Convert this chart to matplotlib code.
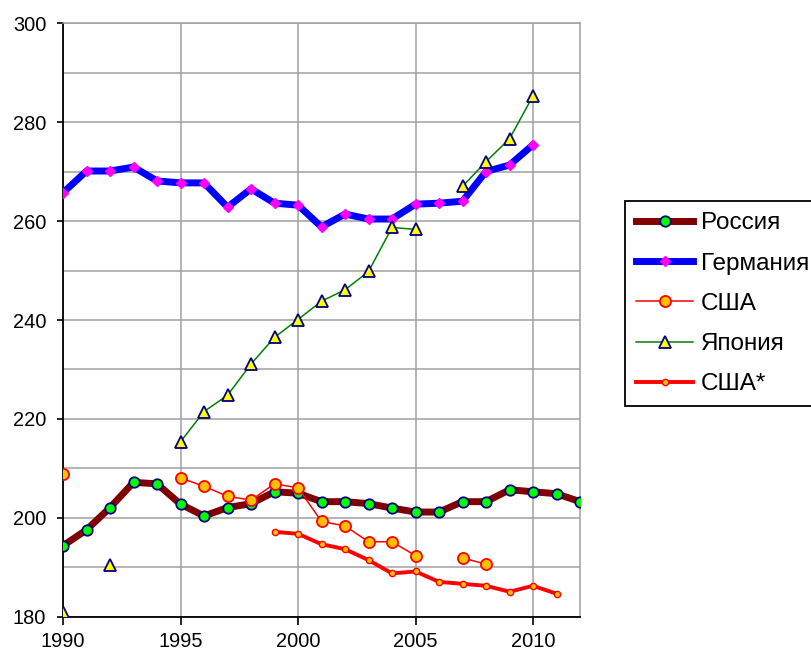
import numpy as np
import matplotlib
matplotlib.use("Agg")
from matplotlib import pyplot as plt

plt.rcParams['font.family'] = ['Liberation Sans', 'DejaVu Sans']

nan = np.nan
years = np.arange(1990, 2013)

russia = [194.4, 197.6, 202.1, 207.2, 206.9, 202.8, 200.4, 202.1, 202.9, 205.3,
          205.0, 203.3, 203.3, 202.9, 202.0, 201.2, 201.2, 203.3, 203.3, 205.7,
          205.3, 204.9, 203.3]
germany = [265.7, 270.1, 270.1, 270.9, 268.1, 267.7, 267.7, 262.8, 266.5, 263.6,
           263.2, 258.8, 261.4, 260.4, 260.4, 263.4, 263.6, 264.0, 270.0, 271.3,
           275.4, nan, nan]
usa = [208.9, nan, nan, nan, nan, 208.1, 206.4, 204.4, 203.6, 206.9,
       206.1, 199.3, 198.4, 195.2, 195.2, 192.4, nan, 191.9, 190.7, nan,
       nan, nan, nan]
japan = [181.0, nan, 190.5, nan, nan, 215.4, 221.5, 224.8, 231.1, 236.5,
         240.1, 243.8, 246.1, 249.8, 258.7, 258.3, nan, 267.0, 272.0, 276.6,
         285.3, nan, nan]
usa_star = [nan, nan, nan, nan, nan, nan, nan, nan, nan, 197.2,
            196.8, 194.7, 193.7, 191.5, 188.8, 189.2, 187.1, 186.7, 186.3, 185.1,
            186.3, 184.7, nan]

fig = plt.figure(figsize=(8.11, 6.52), dpi=100)
ax = fig.add_axes([0.0777, 0.0537, 0.6375, 0.911])

ax.plot(years, russia, color="#800000", lw=5, marker="o", ms=7.5,
        mfc="#00FF00", mec="#000080", mew=1.3, label="Россия", zorder=3)
ax.plot(years, germany, color="#0000FF", lw=5, marker="D", ms=5,
        mfc="#FF00FF", mec="#FF00FF", label="Германия", zorder=3)
ax.plot(years, usa, color="#FF0000", lw=1.1, marker="o", ms=8,
        mfc="#FFC000", mec="#FF0000", mew=1.3, label="США", zorder=4)
ax.plot(years, japan, color="#008000", lw=1.1, marker="^", ms=9,
        mfc="#FFFF00", mec="#000080", mew=1.3, label="Япония", zorder=4)
ax.plot(years, usa_star, color="#FF0000", lw=2.8, marker="o", ms=4.5,
        mfc="#FFC000", mec="#FF0000", mew=1.0, label="США*", zorder=3)

ax.set_xlim(1990, 2012)
ax.set_ylim(180, 300)
ax.set_xticks(range(1990, 2011, 5))
ax.set_yticks(range(180, 301, 20))
ax.set_yticks(range(190, 300, 20), minor=True)
ax.tick_params(axis="both", which="major", labelsize=14.4, width=1.2,
               direction="out")
ax.tick_params(axis="y", which="major", length=4.5, pad=7.5)
ax.tick_params(axis="x", which="major", length=5.8, pad=5)
ax.tick_params(axis="y", which="minor", length=0)
ax.grid(True, which="both", color="#A0A0A0", lw=1.1)
ax.set_axisbelow(True)

for side in ["top", "right"]:
    ax.spines[side].set_color("#A0A0A0")
    ax.spines[side].set_linewidth(1.1)
for side in ["left", "bottom"]:
    ax.spines[side].set_color("black")
    ax.spines[side].set_linewidth(1.3)

leg = fig.legend(loc="upper left", bbox_to_anchor=(0.771, 0.691),
                 fontsize=17.5, handlelength=2.35, labelspacing=0.75,
                 handletextpad=0.3, borderpad=0.45, borderaxespad=0,
                 fancybox=False, framealpha=1)
leg.get_frame().set_edgecolor("black")
leg.get_frame().set_linewidth(1.3)

fig.savefig("out.png", dpi=100)
